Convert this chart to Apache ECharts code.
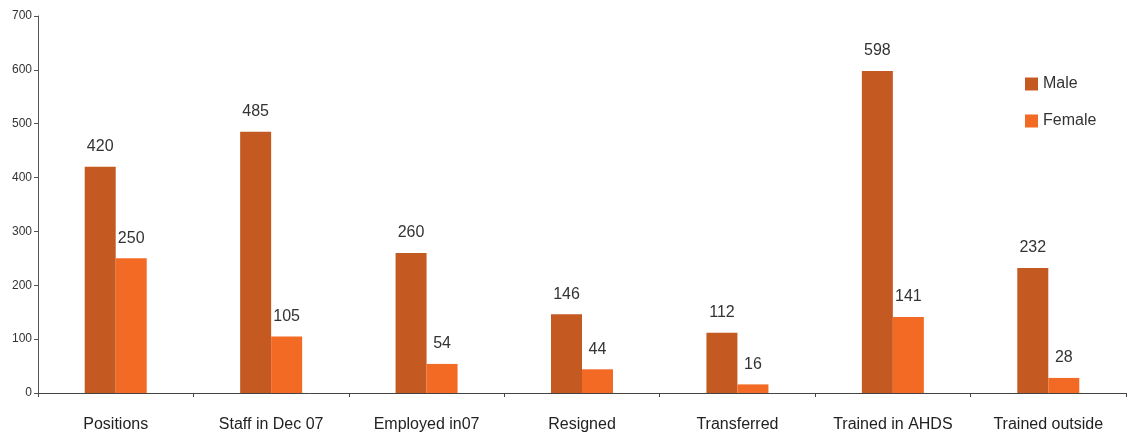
<!DOCTYPE html>
<html lang="en">
<head>
    <meta charset="utf-8">
    <title>Male / Female staff</title>
    <script src="https://cdnjs.cloudflare.com/ajax/libs/echarts/6.0.0/echarts.min.js"></script>
    <style>
        html, body {margin: 0; padding: 0; background: #fff;}
    </style>
</head>
<body>
<div id="chart" style="width: 1128px;height:442px;"></div>
<script type="application/javascript">
    // data
    var categories = ['Positions', 'Staff in Dec 07', 'Employed in07', 'Resigned', 'Transferred', 'Trained in AHDS', 'Trained outside'];
    var maleData = [420, 485, 260, 146, 112, 598, 232];
    var femaleData = [250, 105, 54, 44, 16, 141, 28];
    var yTicks = [0, 100, 200, 300, 400, 500, 600, 700];

    var chart = echarts.init(document.getElementById('chart'));

    var labelStyle = {
        show: true,
        position: 'top',
        distance: 12,
        color: '#333',
        fontSize: 16,
        fontFamily: 'Liberation Sans, Arial, sans-serif'
    };

    var option = {
        animation: false,
        grid: {left: 38, right: 2, top: 16, bottom: 49},
        legend: {
            orient: 'vertical',
            left: 1020,
            top: 71,
            itemWidth: 13,
            itemHeight: 13,
            itemGap: 21,
            icon: 'rect',
            textStyle: {fontSize: 16, color: '#333', fontFamily: 'Liberation Sans, Arial, sans-serif'},
            data: ['Male', 'Female']
        },
        xAxis: {
            type: 'category',
            data: categories,
            axisLine: {lineStyle: {color: '#444'}},
            axisTick: {show: true, length: 4, lineStyle: {color: '#444'}},
            axisLabel: {fontSize: 16, color: '#222', margin: 24, fontFamily: 'Liberation Sans, Arial, sans-serif'}
        },
        yAxis: {
            type: 'value',
            min: yTicks[0],
            max: yTicks[yTicks.length - 1],
            interval: 100,
            splitLine: {show: false},
            axisLine: {show: true, lineStyle: {color: '#555'}},
            axisTick: {show: true, length: 4, lineStyle: {color: '#555'}},
            axisLabel: {fontSize: 12, color: '#333', margin: 6, fontFamily: 'Liberation Sans, Arial, sans-serif'}
        },
        series: [
            {
                name: 'Male',
                type: 'bar',
                data: maleData,
                barWidth: 31,
                barGap: '0%',
                itemStyle: {color: '#C45A22'},
                label: labelStyle
            },
            {
                name: 'Female',
                type: 'bar',
                data: femaleData,
                barWidth: 31,
                itemStyle: {color: '#F26A24'},
                label: labelStyle
            }
        ]
    };

    chart.setOption(option);
</script>
</body>
</html>
